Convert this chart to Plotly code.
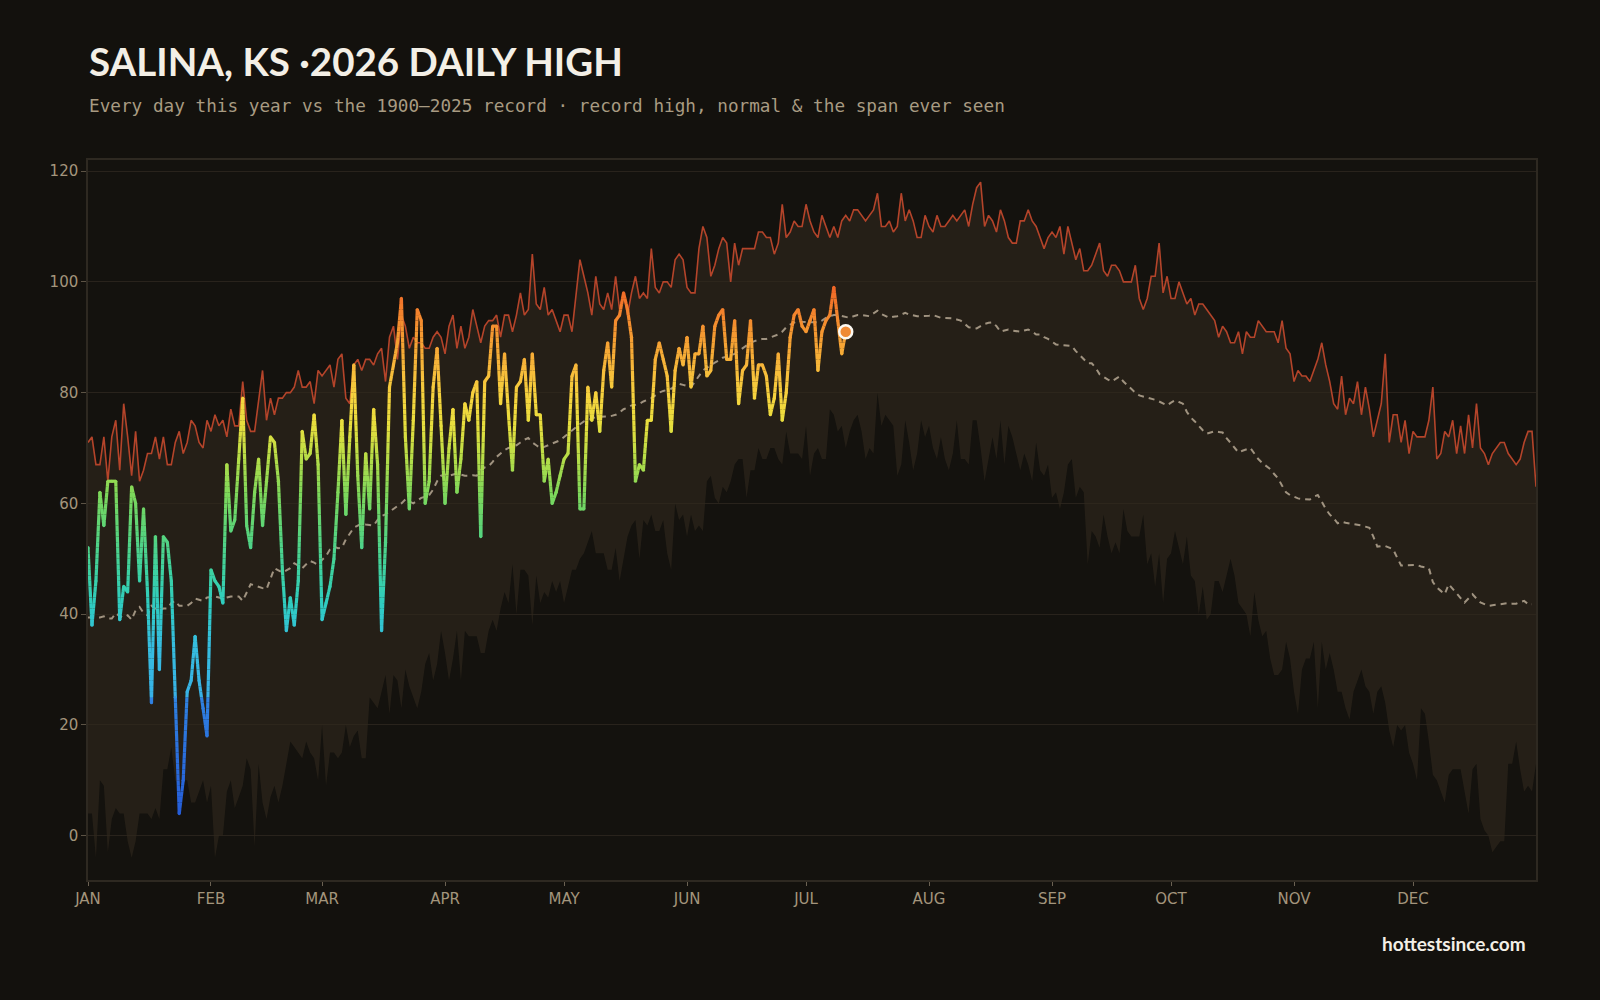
import plotly.graph_objects as go

# ---------------- data ----------------
MONTH_LABELS = ["JAN", "FEB", "MAR", "APR", "MAY", "JUN", "JUL", "AUG", "SEP", "OCT", "NOV", "DEC"]
MONTH_START_DAY = [0, 31, 59, 90, 120, 151, 181, 212, 243, 273, 304, 334]

record_high = [
    71, 72, 67, 67, 72, 64, 72, 75, 66, 78, 72, 65, 73, 64, 66, 69, 69, 72, 68, 72,
    67, 67, 71, 73, 69, 71, 75, 74, 71, 70, 75, 73, 76, 74, 75, 72, 77, 74, 74, 82,
    75, 73, 73, 79, 84, 75, 79, 76, 79, 79, 80, 80, 81, 84, 81, 81, 82, 78, 84, 83,
    84, 85, 81, 86, 87, 79, 78, 85, 86, 84, 86, 86, 85, 87, 88, 82, 90, 92, 86, 94,
    92, 88, 90, 89, 89, 88, 88, 90, 91, 90, 87, 92, 94, 88, 92, 88, 90, 95, 92, 89,
    92, 93, 93, 94, 90, 94, 94, 91, 94, 98, 94, 95, 105, 96, 95, 99, 94, 95, 93, 91,
    94, 94, 91, 98, 104, 101, 98, 94, 101, 96, 95, 98, 95, 101, 95, 98, 94, 98, 101, 97,
    98, 97, 106, 99, 98, 100, 100, 99, 104, 105, 104, 99, 98, 98, 106, 110, 108, 101, 103, 106,
    108, 107, 100, 107, 103, 106, 106, 106, 106, 109, 109, 108, 108, 105, 107, 114, 108, 109, 111, 110,
    110, 114, 111, 109, 108, 112, 110, 108, 110, 108, 111, 112, 111, 113, 113, 112, 111, 112, 113, 116,
    110, 110, 111, 109, 110, 116, 111, 113, 111, 108, 108, 112, 110, 109, 112, 110, 110, 111, 112, 111,
    112, 113, 110, 114, 117, 118, 110, 112, 111, 109, 113, 111, 108, 107, 107, 111, 111, 113, 111, 110,
    108, 106, 108, 109, 108, 110, 105, 110, 107, 104, 106, 102, 102, 103, 105, 107, 102, 101, 103, 103,
    102, 100, 100, 100, 103, 97, 95, 97, 101, 101, 107, 98, 101, 97, 97, 100, 98, 96, 97, 94,
    96, 96, 95, 94, 93, 90, 92, 91, 89, 89, 91, 87, 91, 90, 90, 93, 92, 91, 91, 91,
    89, 93, 88, 87, 82, 84, 83, 83, 82, 84, 86, 89, 85, 82, 78, 77, 83, 76, 79, 78,
    82, 76, 81, 77, 72, 75, 78, 87, 71, 76, 76, 71, 75, 69, 73, 72, 72, 72, 75, 81,
    68, 69, 73, 72, 75, 69, 74, 69, 76, 70, 78, 70, 69, 67, 69, 70, 71, 71, 69, 68,
    67, 68, 71, 73, 73, 63,
]

record_low = [
    4, 4, -4, 10, 9, -3, 3, 5, 4, 4, -1, -4, -1, 4, 4, 4, 3, 5, 3, 12,
    12, 16, 10, 9, 10, 10, 6, 6, 8, 10, 6, 9, -4, 0, 0, 8, 10, 5, 7, 9,
    14, 12, -2, 13, 6, 3, 7, 9, 6, 9, 13, 17, 16, 15, 14, 17, 15, 14, 10, 20,
    9, 15, 15, 14, 15, 20, 16, 18, 19, 14, 14, 25, 24, 23, 26, 29, 22, 29, 28, 23,
    30, 27, 25, 23, 26, 31, 33, 28, 31, 37, 33, 28, 32, 37, 28, 37, 36, 36, 36, 33,
    33, 37, 39, 37, 41, 44, 42, 49, 40, 48, 48, 47, 38, 47, 42, 44, 43, 46, 44, 46,
    42, 45, 48, 48, 50, 51, 53, 55, 51, 51, 51, 48, 48, 52, 46, 50, 54, 56, 57, 50,
    57, 56, 58, 55, 55, 57, 51, 48, 60, 57, 58, 54, 58, 55, 56, 55, 64, 65, 61, 60,
    63, 62, 64, 67, 68, 68, 61, 66, 66, 70, 68, 68, 70, 70, 68, 67, 73, 69, 69, 69,
    68, 74, 65, 69, 70, 68, 68, 77, 76, 73, 74, 70, 73, 75, 76, 73, 68, 70, 69, 80,
    74, 76, 75, 74, 65, 67, 75, 71, 66, 69, 75, 72, 74, 70, 68, 72, 68, 66, 69, 75,
    68, 68, 67, 75, 75, 70, 64, 68, 72, 68, 75, 67, 74, 72, 69, 66, 69, 67, 64, 71,
    66, 65, 67, 61, 62, 59, 62, 67, 68, 61, 63, 62, 49, 55, 54, 52, 58, 54, 51, 53,
    51, 59, 55, 54, 54, 54, 58, 49, 51, 45, 51, 42, 50, 51, 55, 52, 49, 54, 47, 46,
    40, 45, 39, 40, 46, 46, 44, 47, 50, 47, 42, 41, 40, 36, 44, 39, 36, 37, 32, 29,
    29, 30, 35, 32, 26, 22, 30, 32, 32, 35, 23, 35, 30, 33, 30, 26, 26, 23, 21, 26,
    28, 30, 27, 26, 22, 26, 27, 24, 19, 16, 20, 19, 20, 15, 13, 10, 23, 22, 17, 11,
    10, 8, 6, 11, 12, 12, 12, 8, 4, 12, 13, 3, 1, 0, -3, -2, -1, -1, 13, 13,
    17, 12, 8, 9, 8, 13,
]

normal_high = [
    39.4, 39.4, 39.3, 39.4, 39.6, 39.2, 39.2, 40.2, 39.6, 39.4, 39.8, 39.0, 40.7, 41.3, 40.2, 39.8, 41.5, 41.0, 40.7, 41.0,
    41.0, 42.0, 42.4, 41.5, 41.5, 41.5, 42.0, 42.8, 42.6, 42.4, 43.0, 43.1, 43.2, 43.0, 42.8, 43.0, 43.2, 43.2, 43.2, 42.4,
    44.0, 45.4, 45.2, 44.9, 44.7, 44.5, 46.6, 48.3, 47.9, 47.5, 47.9, 48.3, 49.2, 48.8, 48.3, 49.0, 49.6, 49.3, 48.9, 49.8,
    50.5, 51.7, 52.2, 51.9, 52.0, 53.5, 54.5, 55.6, 56.0, 56.4, 56.2, 56.1, 56.0, 57.0, 57.7, 58.0, 58.5, 59.0, 59.4, 60.0,
    60.7, 60.3, 60.0, 60.5, 61.0, 61.2, 61.5, 62.5, 64.0, 65.0, 65.2, 65.0, 65.2, 65.4, 65.2, 65.0, 65.0, 65.1, 65.0, 66.0,
    66.5, 66.7, 67.5, 68.4, 69.0, 69.6, 70.0, 70.2, 70.5, 71.0, 71.5, 71.8, 71.0, 70.5, 70.0, 70.2, 70.5, 70.8, 71.0, 71.4,
    72.0, 72.6, 73.2, 73.8, 74.3, 74.8, 75.0, 75.3, 75.6, 75.6, 75.6, 75.7, 75.8, 76.0, 76.4, 77.0, 77.3, 77.7, 77.8, 78.0,
    78.4, 78.7, 79.0, 79.5, 80.0, 80.3, 80.5, 80.7, 81.2, 81.6, 81.4, 81.2, 81.0, 82.0, 83.0, 84.0, 84.5, 85.0, 85.4, 85.8,
    86.3, 86.5, 86.8, 87.0, 87.5, 88.0, 88.5, 89.0, 89.3, 89.5, 89.7, 89.7, 90.0, 90.3, 90.5, 91.0, 91.8, 92.3, 92.7, 93.0,
    92.8, 92.7, 92.7, 92.7, 92.7, 93.0, 93.5, 93.8, 94.0, 94.0, 93.8, 93.6, 93.5, 93.8, 94.0, 94.0, 93.9, 93.8, 94.3, 94.8,
    94.2, 93.8, 93.5, 93.7, 93.8, 94.1, 94.4, 94.1, 93.9, 93.8, 93.8, 93.8, 93.9, 94.0, 93.8, 93.5, 93.5, 93.5, 93.4, 93.2,
    93.0, 92.4, 91.8, 91.7, 91.6, 92.0, 92.4, 92.6, 92.7, 92.0, 91.0, 91.2, 91.4, 91.2, 91.1, 91.0, 91.2, 91.4, 91.0, 90.5,
    90.5, 90.0, 89.7, 89.2, 88.7, 88.6, 88.5, 88.4, 88.4, 87.5, 86.7, 86.0, 85.3, 85.3, 84.5, 83.3, 82.8, 82.4, 82.0, 82.5,
    82.9, 82.0, 81.3, 80.7, 80.0, 79.5, 79.3, 79.2, 79.0, 78.7, 78.4, 78.0, 77.7, 78.2, 78.6, 78.3, 78.0, 76.5, 75.5, 74.8,
    74.0, 73.2, 72.6, 72.8, 73.0, 72.9, 72.8, 71.8, 71.0, 70.0, 69.2, 69.5, 69.8, 70.0, 69.0, 68.0, 67.3, 66.8, 66.2, 65.3,
    64.5, 63.2, 62.0, 61.5, 61.2, 60.9, 60.8, 60.7, 60.7, 61.2, 61.5, 60.3, 59.0, 58.0, 57.3, 56.4, 56.7, 56.5, 56.4, 56.3,
    56.2, 56.0, 55.8, 55.6, 54.0, 52.2, 52.3, 52.3, 52.0, 51.7, 50.2, 48.8, 48.8, 48.8, 48.8, 48.9, 48.6, 48.4, 48.3, 45.8,
    44.8, 44.2, 43.6, 45.4, 44.5, 43.6, 42.9, 42.1, 42.8, 43.6, 42.8, 42.1, 41.8, 41.5, 41.6, 41.7, 41.8, 41.9, 42.0, 41.9,
    41.9, 42.2, 42.4, 41.8, 41.8,
]

high_2026 = [
    52, 38, 46, 62, 56, 64, 64, 64, 39, 45, 44, 63, 60, 46, 59, 44, 24, 54, 30, 54,
    53, 46, 25, 4, 10, 26, 28, 36, 28, 23, 18, 48, 46, 45, 42, 67, 55, 57, 68, 79,
    56, 52, 62, 68, 56, 64, 72, 71, 64, 48, 37, 43, 38, 46, 73, 68, 69, 76, 67, 39,
    42, 45, 50, 62, 75, 58, 72, 85, 65, 52, 69, 59, 77, 67, 37, 53, 81, 85, 89, 97,
    72, 59, 75, 95, 93, 60, 64, 81, 88, 74, 60, 70, 77, 62, 68, 78, 75, 80, 82, 54,
    82, 83, 92, 92, 78, 87, 76, 66, 81, 82, 86, 75, 87, 76, 76, 64, 68, 60, 62, 65,
    68, 69, 83, 85, 59, 59, 81, 75, 80, 73, 84, 89, 81, 93, 94, 98, 95, 90, 64, 67,
    66, 75, 75, 86, 89, 86, 83, 73, 84, 88, 85, 90, 81, 87, 87, 92, 83, 84, 92, 94,
    95, 86, 86, 93, 78, 84, 85, 93, 79, 85, 85, 83, 76, 79, 87, 75, 80, 90, 94, 95,
    92, 91, 93, 95, 84, 91, 93, 94, 99, 93, 87, 91,
]

days_record = list(range(len(record_high)))
days_normal = list(range(len(normal_high)))
days_2026 = list(range(len(high_2026)))

# colour ramp for the 2026 line (temperature -> colour)
COLOR_STOPS = [
    (0, (36, 86, 214)), (22, (46, 124, 224)), (24.5, (48, 130, 226)), (25.5, (56, 178, 230)),
    (35, (54, 190, 222)), (42, (47, 205, 192)), (48, (62, 210, 160)), (55, (90, 212, 122)),
    (62, (127, 216, 90)), (68, (181, 221, 72)), (74, (230, 223, 62)), (79, (246, 212, 62)),
    (84, (247, 187, 59)), (90, (245, 156, 50)), (95, (243, 128, 44)), (100, (238, 95, 38)),
    (110, (225, 70, 35)),
]


def temp_color(v):
    if v <= COLOR_STOPS[0][0]:
        c = COLOR_STOPS[0][1]
    elif v >= COLOR_STOPS[-1][0]:
        c = COLOR_STOPS[-1][1]
    else:
        for (a, ca), (b, cb) in zip(COLOR_STOPS[:-1], COLOR_STOPS[1:]):
            if a <= v <= b:
                t = (v - a) / (b - a)
                c = tuple(ca[k] + t * (cb[k] - ca[k]) for k in range(3))
                break
    return "rgb(%d,%d,%d)" % tuple(int(round(x)) for x in c)


# ---------------- styling ----------------
PAPER = "#13110d"
PLOT_BG = "#14120e"
BAND = "rgba(49,40,29,0.62)"
REC_HIGH_COLOR = "#b4442a"
NORMAL_COLOR = "#a09380"
GRID = "#29231c"
AXIS_LINE = "#2e2921"
TICK_TEXT = "#a3957c"
TITLE_COLOR = "#f3efe6"

fig = go.Figure()

# band between record low and record high
fig.add_trace(go.Scatter(x=days_record, y=record_low, mode="lines",
                         line=dict(width=0, color=BAND), hoverinfo="skip", showlegend=False))
fig.add_trace(go.Scatter(x=days_record, y=record_high, mode="lines", fill="tonexty",
                         fillcolor=BAND, line=dict(width=1.6, color=REC_HIGH_COLOR),
                         name="record high", showlegend=False))

# normal
fig.add_trace(go.Scatter(x=days_normal, y=normal_high, mode="lines",
                         line=dict(width=2, color=NORMAL_COLOR, dash="6px,5px"),
                         name="normal", showlegend=False))

# 2026 line, split into small pieces coloured by temperature
pieces = {}
for i in range(len(high_2026) - 1):
    x0, y0 = days_2026[i], high_2026[i]
    x1, y1 = days_2026[i + 1], high_2026[i + 1]
    cuts = [y0]
    step = 1 if y1 > y0 else -1
    k = int(y0) + step
    while (step > 0 and k < y1) or (step < 0 and k > y1):
        cuts.append(k)
        k += step
    cuts.append(y1)
    for a, b in zip(cuts[:-1], cuts[1:]):
        if y1 == y0:
            xa, xb = x0, x1
        else:
            xa = x0 + (a - y0) / (y1 - y0) * (x1 - x0)
            xb = x0 + (b - y0) / (y1 - y0) * (x1 - x0)
        key = int((a + b) / 2.0)
        seg = pieces.setdefault(key, ([], []))
        seg[0].extend([xa, xb, None])
        seg[1].extend([a, b, None])

for key in sorted(pieces):
    xs, ys = pieces[key]
    fig.add_trace(go.Scatter(x=xs, y=ys, mode="lines",
                             line=dict(width=3.2, color=temp_color(key + 0.5)),
                             hoverinfo="skip", showlegend=False))

# round joints
fig.add_trace(go.Scatter(x=days_2026, y=high_2026, mode="markers",
                         marker=dict(size=3.2, color=[temp_color(v) for v in high_2026], line=dict(width=0)),
                         hoverinfo="skip", showlegend=False))

# latest day marker
fig.add_trace(go.Scatter(x=[days_2026[-1]], y=[high_2026[-1]], mode="markers",
                         marker=dict(size=13, color="#ef8a35", line=dict(width=2.5, color="#fbf8f2")),
                         showlegend=False))

fig.update_layout(
    width=1600, height=1000,
    paper_bgcolor=PAPER, plot_bgcolor=PLOT_BG,
    margin=dict(l=88, r=64, t=160, b=120),
    font=dict(family="DejaVu Sans", color=TICK_TEXT, size=15),
    title=dict(text="<b>SALINA, KS ·2026 DAILY HIGH</b>", xref="container", yref="container",
               x=0.0556, xanchor="left", y=1 - 63 / 1000, yanchor="middle",
               font=dict(family="Lato", size=38.5, color=TITLE_COLOR)),
    showlegend=False,
)

fig.add_annotation(text="Every day this year vs the 1900–2025 record · record high, normal &amp; the span ever seen",
                   xref="paper", yref="paper", x=-0.001, y=1 + (160 - 106) / 720, xanchor="left", yanchor="middle",
                   showarrow=False, font=dict(family="DejaVu Sans Mono", size=17.7, color="#a89b82"))

fig.add_annotation(text="<b>hottestsince.com</b>", xref="paper", yref="paper",
                   x=(1528 - 88) / 1448, y=(880 - 944) / 720, xanchor="right", yanchor="middle",
                   showarrow=False, font=dict(family="Lato", size=19, color=TITLE_COLOR))

fig.update_xaxes(range=[0, 365], tickvals=MONTH_START_DAY, ticktext=MONTH_LABELS,
                 showgrid=False, zeroline=False, showline=True, linecolor=AXIS_LINE, linewidth=1.5,
                 mirror=True, ticks="outside", ticklen=4, tickcolor="#6b6152",
                 tickfont=dict(size=15, color=TICK_TEXT, family="DejaVu Sans"))
fig.update_yaxes(range=[-8, 122], tickvals=[0, 20, 40, 60, 80, 100, 120],
                 showgrid=True, gridcolor=GRID, gridwidth=1, zeroline=False,
                 showline=True, linecolor=AXIS_LINE, linewidth=1.5, mirror=True,
                 ticks="outside", ticklen=5, tickcolor="#5c5345",
                 tickfont=dict(size=15, color=TICK_TEXT, family="DejaVu Sans"))

fig.write_html("out.html")
